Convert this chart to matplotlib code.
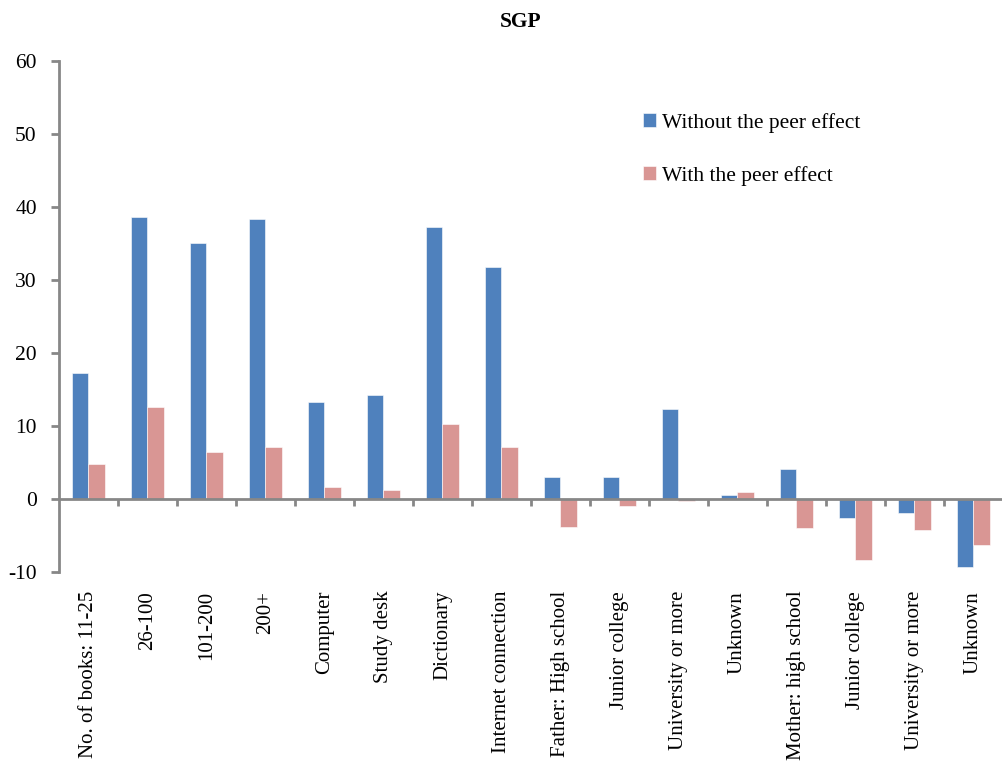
import numpy as np
import matplotlib
matplotlib.use('Agg')
import matplotlib.pyplot as plt

categories = [
    'No. of books: 11-25', '26-100', '101-200', '200+', 'Computer', 'Study desk',
    'Dictionary', 'Internet connection', 'Father: High school', 'Junior college',
    'University or more', 'Unknown', 'Mother: high school', 'Junior college',
    'University or more', 'Unknown',
]
without_peer = [17.3, 38.6, 35.1, 38.4, 13.3, 14.2, 37.3, 31.8,
                3.0, 3.0, 12.4, 0.5, 4.1, -2.6, -1.9, -9.3]
with_peer = [4.8, 12.6, 6.4, 7.2, 1.6, 1.2, 10.3, 7.2,
             -3.8, -0.9, -0.2, 1.0, -4.0, -8.4, -4.2, -6.3]

plt.rcParams['font.family'] = ['Liberation Serif', 'DejaVu Serif']
plt.rcParams['axes.unicode_minus'] = False

fig = plt.figure(figsize=(10.03, 7.69), dpi=100)
ax = fig.add_axes([0.0588, 0.256, 0.9412, 0.6647])

x = np.arange(len(categories))
w = 0.285
ax.bar(x - w / 2, without_peer, w, color='#4F81BD', edgecolor='white', linewidth=0.4,
       label='Without the peer effect', zorder=2)
ax.bar(x + w / 2, with_peer, w, color='#D99694', edgecolor='white', linewidth=0.4,
       label='With the peer effect', zorder=2)

ax.set_xlim(-0.5, len(categories) - 0.5)
ax.set_ylim(-10, 60)
ax.set_yticks(range(-10, 61, 10))

axis_grey = '#878787'
for side in ('top', 'right'):
    ax.spines[side].set_visible(False)
ax.spines['left'].set_color(axis_grey)
ax.spines['left'].set_linewidth(2)
ax.spines['bottom'].set_color(axis_grey)
ax.spines['bottom'].set_linewidth(2)
ax.spines['bottom'].set_position(('data', 0))
ax.spines['bottom'].set_zorder(3)

# tick marks on the category boundaries, labels on the centres below the plot
ax.set_xticks(np.arange(0.5, len(categories) - 0.5, 1))
ax.set_xticklabels([])
ax.set_xticks(x, minor=True)
ax.set_xticklabels(categories, minor=True, rotation=90, fontsize=15)
ax.tick_params(axis='x', which='major', direction='out', length=5, width=2, color=axis_grey)
ax.tick_params(axis='x', which='minor', length=0, pad=66)
ax.tick_params(axis='y', direction='out', length=6, width=2, color=axis_grey,
               labelsize=15.5, pad=10)

fig.text(0.519, 0.972, 'SGP', fontsize=15.5, fontweight='bold', ha='center', va='center')

ax.legend(loc='upper left', bbox_to_anchor=(0.607, 0.92), frameon=False, fontsize=15.5,
          handlelength=0.6, handleheight=0.6, handletextpad=0.3, labelspacing=1.55,
          borderpad=0)

fig.savefig('out.png', dpi=100)
